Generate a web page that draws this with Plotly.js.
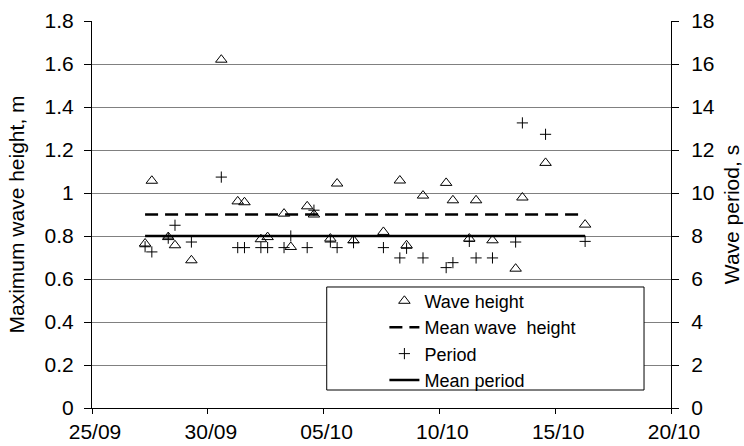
<!DOCTYPE html>
<html>
<head>
<meta charset="utf-8">
<script src="https://cdn.plot.ly/plotly-3.0.1.min.js"></script>
<style>html,body{margin:0;padding:0;background:#fff;}#chart{width:744px;height:446px;}</style>
</head>
<body>
<div id="chart"></div>
<script>
// Observation times (two readings per day, ~07:00 and ~14:00)
const times = [
  "2002-09-27 07:00","2002-09-27 14:00","2002-09-28 07:00","2002-09-28 14:00","2002-09-29 07:00",
  "2002-09-30 14:00","2002-10-01 07:00","2002-10-01 14:00","2002-10-02 07:00","2002-10-02 14:00",
  "2002-10-03 07:00","2002-10-03 14:00","2002-10-04 07:00","2002-10-04 14:00","2002-10-05 07:00",
  "2002-10-05 14:00","2002-10-06 07:00","2002-10-07 14:00","2002-10-08 07:00","2002-10-08 14:00",
  "2002-10-09 07:00","2002-10-10 07:00","2002-10-10 14:00","2002-10-11 07:00","2002-10-11 14:00",
  "2002-10-12 07:00","2002-10-13 07:00","2002-10-13 14:00","2002-10-14 14:00","2002-10-16 07:00"
];
// Maximum wave height, m
const waveHeight = [
  0.765,1.057,0.795,0.757,0.687,
  1.62,0.961,0.957,0.785,0.795,
  0.904,0.749,0.938,0.900,0.788,
  1.044,0.780,0.819,1.058,0.757,
  0.988,1.047,0.966,0.788,0.966,
  0.780,0.648,0.979,1.140,0.853
];
// Wave period, s
const period = [
  7.5,7.26,7.9,8.5,7.72,
  10.74,7.46,7.46,7.46,7.46,
  7.46,8.0,7.46,9.2,7.72,
  7.46,7.69,7.46,6.98,7.43,
  6.98,6.53,6.76,7.75,6.98,
  6.98,7.72,13.26,12.73,7.75
];
const meanWaveHeight = 0.9;
const meanPeriod = 8.0;
const meanSpan = [times[0], times[times.length - 1]];
const xTickVals = ["2002-09-25","2002-09-30","2002-10-05","2002-10-10","2002-10-15","2002-10-20"];
const xTickText = ["25/09","30/09","05/10","10/10","15/10","20/10"];
const seriesNames = ["Wave height","Mean wave\u00a0 height","Period","Mean period"];

const FONT = "Liberation Sans, Arial, sans-serif";
const FS = 21;

const traces = [
  {
    type: "scatter", mode: "markers", name: seriesNames[0],
    x: times, y: waveHeight, yaxis: "y",
    marker: {symbol: "triangle-up-open", size: 10, color: "#000", line: {width: 1, color: "#000"}}
  },
  {
    type: "scatter", mode: "lines", name: seriesNames[1],
    x: meanSpan, y: [meanWaveHeight, meanWaveHeight], yaxis: "y",
    line: {color: "#000", width: 2.5, dash: "13px,7px"}
  },
  {
    type: "scatter", mode: "markers", name: seriesNames[2],
    x: times, y: period, yaxis: "y2",
    marker: {symbol: "cross-thin-open", size: 8, color: "#000", line: {width: 1, color: "#000"}}
  },
  {
    type: "scatter", mode: "lines", name: seriesNames[3],
    x: meanSpan, y: [meanPeriod, meanPeriod], yaxis: "y2",
    line: {color: "#000", width: 2.5}
  }
];

const layout = {
  width: 744, height: 446,
  margin: {l: 92, r: 73, t: 21, b: 38, pad: 0},
  paper_bgcolor: "#fff", plot_bgcolor: "#fff",
  font: {family: FONT, size: FS, color: "#000"},
  showlegend: true,
  legend: {
    x: 0.505, y: 0.324, xanchor: "left", yanchor: "top",
    bgcolor: "rgba(0,0,0,0)", borderwidth: 0,
    font: {family: FONT, size: 18, color: "#000"},
    tracegroupgap: 0
  },
  xaxis: {
    type: "date",
    range: ["2002-09-25", "2002-10-20"],
    tickmode: "array", tickvals: xTickVals, ticktext: xTickText,
    ticks: "outside", ticklen: 5, tickcolor: "#000", tickwidth: 1,
    showline: true, linecolor: "#000", linewidth: 1,
    showgrid: false, zeroline: false,
    tickfont: {family: FONT, size: FS, color: "#000"},
    ticklabelshift: 3
  },
  yaxis: {
    range: [0, 1.8], dtick: 0.2, tick0: 0,
    ticks: "outside", ticklen: 7, tickcolor: "#000", tickwidth: 1,
    ticklabelstandoff: 6,
    showline: true, linecolor: "#000", linewidth: 1,
    showgrid: true, gridcolor: "#808080", gridwidth: 1,
    zeroline: false,
    tickfont: {family: FONT, size: FS, color: "#000"},
    title: {text: "Maximum wave height, m", font: {family: FONT, size: FS, color: "#000"}, standoff: 14}
  },
  yaxis2: {
    range: [0, 18], dtick: 2, tick0: 0,
    overlaying: "y", side: "right",
    ticks: "outside", ticklen: 7, tickcolor: "#000", tickwidth: 1,
    ticklabelstandoff: 8,
    showline: true, linecolor: "#000", linewidth: 1,
    showgrid: false, zeroline: false,
    tickfont: {family: FONT, size: FS, color: "#000"},
    title: {text: "Wave period, s", font: {family: FONT, size: FS, color: "#000"}, standoff: 10}
  },
  shapes: [
    {
      type: "rect", xref: "paper", yref: "paper", layer: "above",
      x0: 0.4054, x1: 0.9534, y0: 0.0465, y1: 0.3127,
      line: {color: "#000", width: 1}, fillcolor: "#fff"
    }
  ]
};

Plotly.newPlot("chart", traces, layout, {displayModeBar: false, staticPlot: true});
</script>
</body>
</html>
